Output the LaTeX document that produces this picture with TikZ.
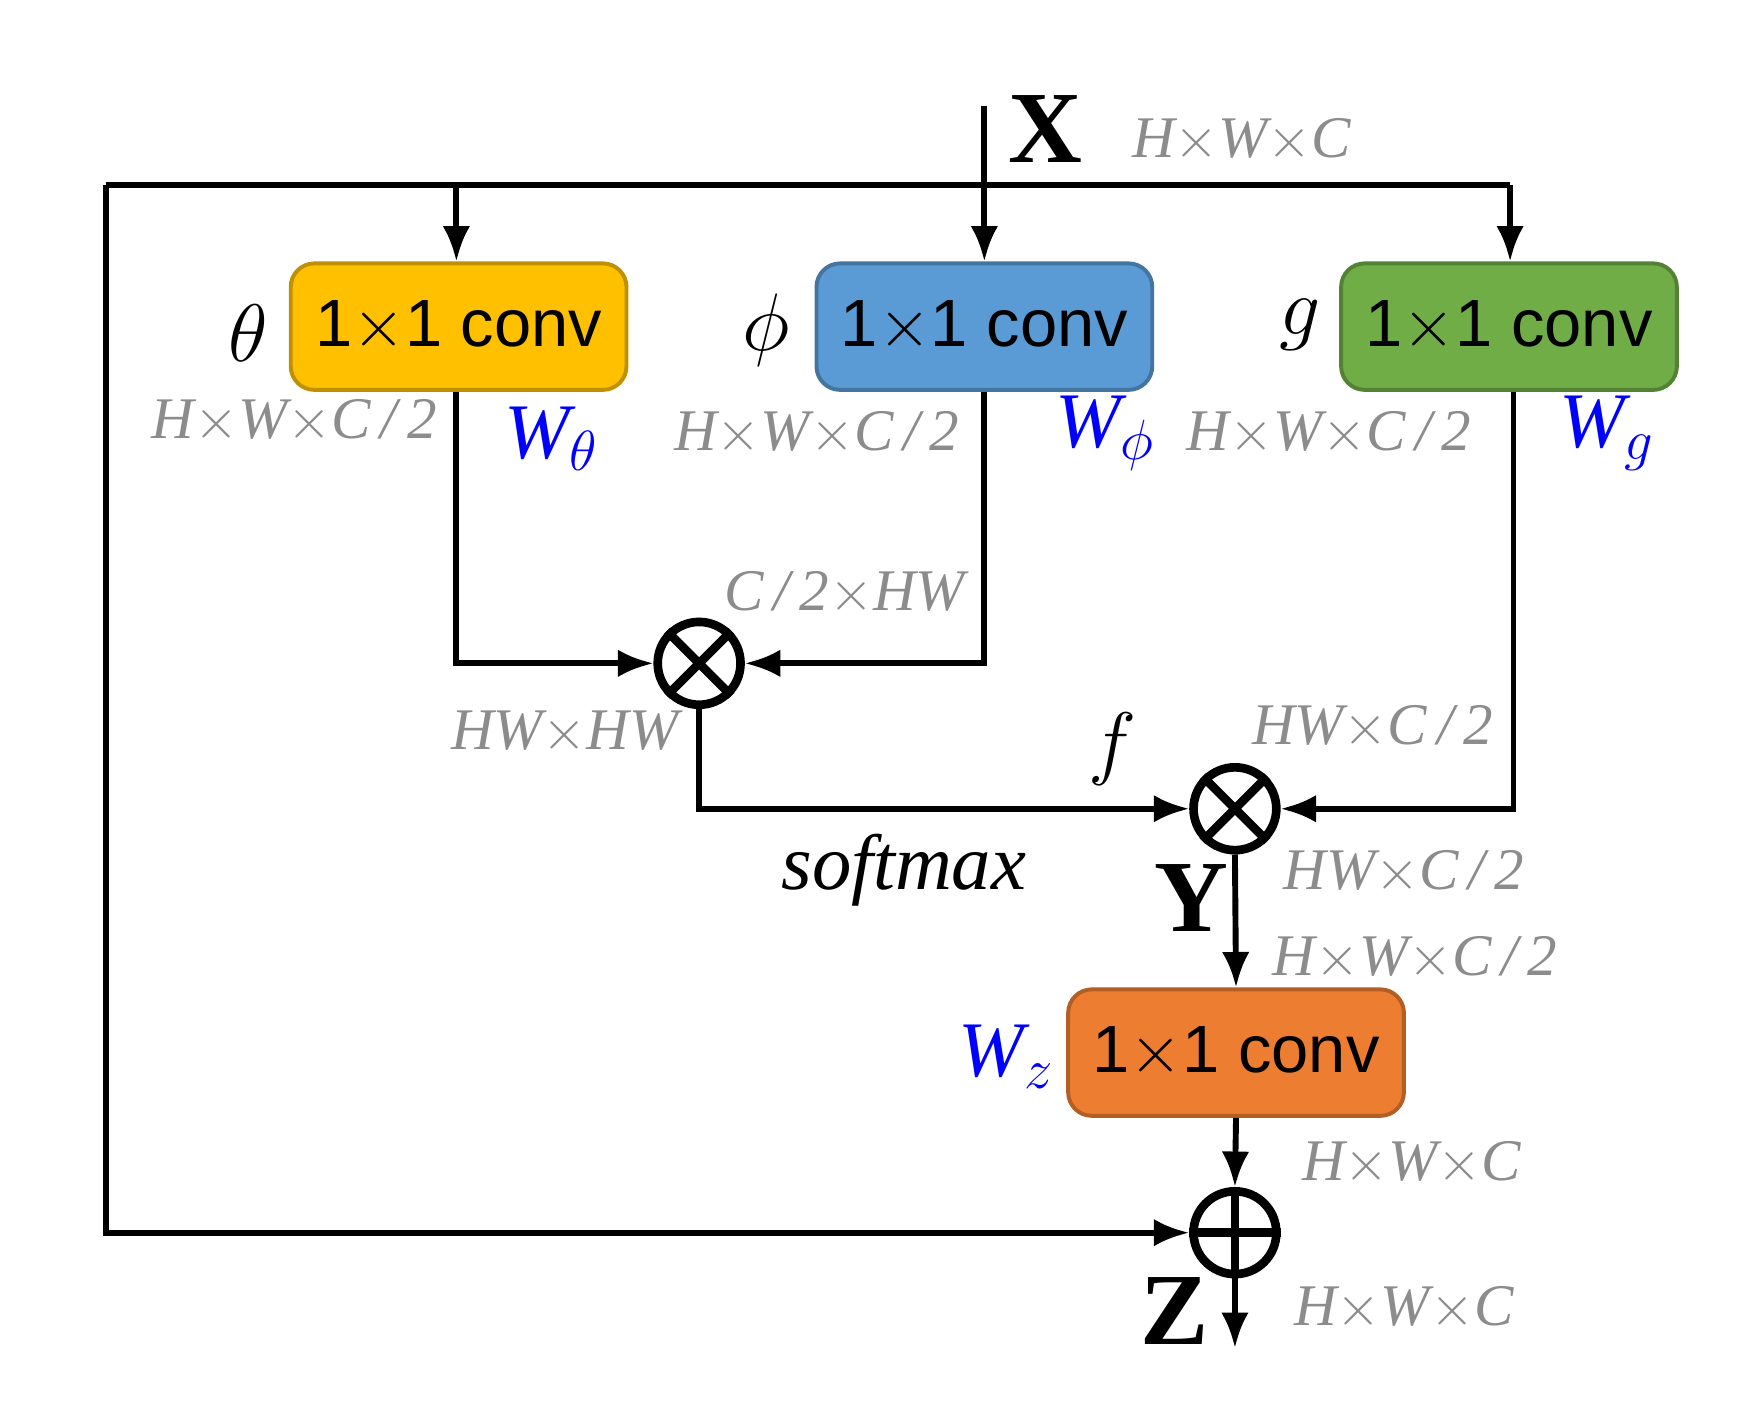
\documentclass[tikz,border=0pt]{standalone}
\usepackage{fontspec}
\setmainfont{Liberation Serif}
\newfontfamily\boxfont{Liberation Sans}
\usetikzlibrary{arrows.meta}
\definecolor{cy}{HTML}{FFC000}\definecolor{cb}{HTML}{5B9BD5}
\definecolor{cg}{HTML}{70AD47}\definecolor{co}{HTML}{ED7D31}
\definecolor{gl}{HTML}{8C8C8C}
\begin{document}
\begin{tikzpicture}[x=0.01cm,y=-0.01cm,
  ln/.style={line width=1.5pt},
  ar/.style={ln,-{Latex[length=9pt,width=7pt]}},
  cv/.style={draw=#1!75!black,fill=#1,rounded corners=6pt,line width=1pt,minimum width=3cm,minimum height=1.13cm,font=\boxfont\fontsize{17}{17}\selectfont,inner sep=0pt},
  op/.style={circle,draw,line width=2.2pt,minimum size=0.74cm,inner sep=0pt},
  gl/.style={text=gl,font=\itshape\fontsize{15}{15}\selectfont},
  bl/.style={text=blue,font=\itshape\fontsize{20}{20}\selectfont},
  gk/.style={font=\itshape\fontsize{22}{22}\selectfont}]
\useasboundingbox (0,0) rectangle (1560,1275);
\node[cv=cy] (th) at (410,292) {1$\times$1 conv};
\node[cv=cb] (ph) at (880,292) {1$\times$1 conv};
\node[cv=cg] (g) at (1349,292) {1$\times$1 conv};
\node[cv=co] (z) at (1105,941) {1$\times$1 conv};
\node[op] (m1) at (625,593) {};
\draw[line width=2.2pt] (m1.45)--(m1.225) (m1.135)--(m1.315);
\node[op] (m2) at (1104,723) {};
\draw[line width=2.2pt] (m2.45)--(m2.225) (m2.135)--(m2.315);
\node[op] (pl) at (1104,1102) {};
\draw[line width=2.2pt] (pl.north)--(pl.south) (pl.west)--(pl.east);
\coordinate (xin) at (880,95);
\coordinate (out) at (1104,1205);
\draw[ar] (xin)--(ph.north);
\draw[ln] (95,165)--(1350,165);
\draw[ar] (408,165)--(th.north -| 408,0);
\draw[ar] (1350,165)--(g.north -| 1350,0);
\draw[ar] (95,165)--(95,1102)--(pl.west);
\draw[ar] (th.south -| 408,0)--(408,593)--(m1.west);
\draw[ar] (ph.south -| 880,0)--(880,593)--(m1.east);
\draw[ar] (m1.south)--(625,723)--(m2.west);
\draw[ar] (g.south -| 1353,0)--(1353,723)--(m2.east);
\draw[ar] (m2.south)--(z.north);
\draw[ar] (z.south)--(pl.north);
\draw[ar] (pl.south)--(out);
\node[font=\bfseries\fontsize{26}{26}\selectfont] (X) at (935,115) {X};
\node[gl] at (1110,125) {H$\times$W$\times$C};
\node[gk] at (222,298) {$\theta$};
\node[gk] at (685,295) {$\phi$};
\node[gk] at (1162,290) {$g$};
\node[gl] at (263,377) {H$\times$W$\times$C\,/\,2};
\node[gl] at (730,387) {H$\times$W$\times$C\,/\,2};
\node[gl] at (1188,387) {H$\times$W$\times$C\,/\,2};
\node[bl] at (493,392) {W\textsubscript{$\theta$}};
\node[bl] at (988,387) {W\textsubscript{$\phi$}};
\node[bl] at (1437,387) {W\textsubscript{$g$}};
\node[bl] at (900,945) {W\textsubscript{$z$}};
\node[gl] at (755,530) {C\,/\,2$\times$HW};
\node[gl] at (505,655) {HW$\times$HW};
\node[gk] at (995,670) {$f$};
\node[gl] at (1227,650) {HW$\times$C\,/\,2};
\node[font=\itshape\fontsize{20}{20}\selectfont] at (808,778) {softmax};
\node[font=\bfseries\fontsize{26}{26}\selectfont] at (1065,803) {Y};
\node[gl] at (1255,780) {HW$\times$C\,/\,2};
\node[gl] at (1265,857) {H$\times$W$\times$C\,/\,2};
\node[gl] at (1262,1040) {H$\times$W$\times$C};
\node[font=\bfseries\fontsize{26}{26}\selectfont] at (1050,1172) {Z};
\node[gl] at (1255,1170) {H$\times$W$\times$C};
\end{tikzpicture}
\end{document}
